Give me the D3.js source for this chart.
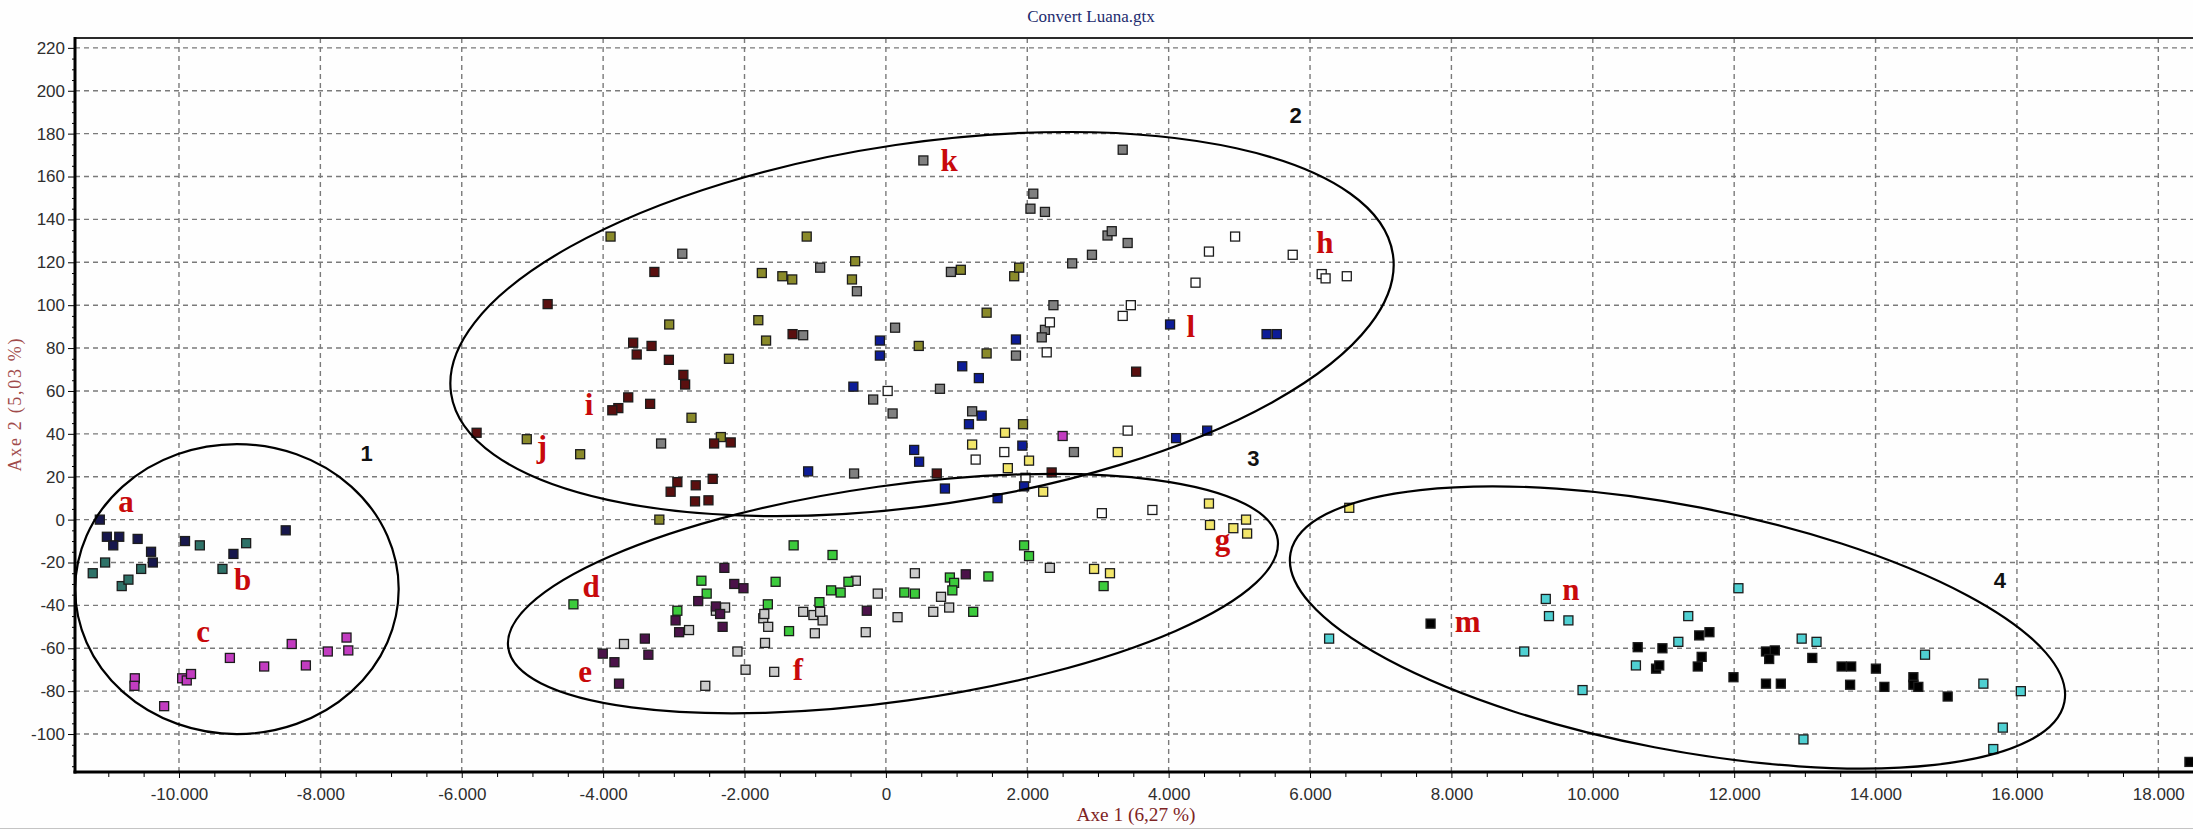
<!DOCTYPE html>
<html>
<head>
<meta charset="utf-8">
<script src="https://cdn.jsdelivr.net/npm/d3@7"></script>
<style>
  body { margin: 0; background: #fff; }
  svg { display: block; }
</style>
</head>
<body>
<svg id="chart" width="2193" height="830"></svg>
<script>
// ---- data (Axe 1, Axe 2) ----
const ptsA = [[-11120,0],[-11020,-8],[-10845,-8],[-10930,-12],[-10585,-9],[-10395,-15],[-10370,-20],[-9915,-10],[-9230,-16],[-8490,-5]];
const ptsB = [[-11220,-25],[-11045,-20],[-10810,-31],[-10715,-28],[-10535,-23],[-9705,-12],[-9385,-23],[-9050,-11]];
const ptsC = [[-10625,-74],[-10630,-77.5],[-10210,-87],[-9955,-74],[-9890,-75],[-9830,-72],[-9280,-64.5],[-8795,-68.5],[-8405,-58],[-8205,-68],[-7895,-61.5],[-7630,-55],[-7605,-61],[2500,39]];
const ptsD = [[-4420,-39.5],[-1305,-12],[-755,-16.5],[-2610,-28.5],[-2535,-34.5],[-2950,-42.5],[-1560,-29],[-1670,-39.5],[-1370,-52],[-940,-38.5],[-775,-33],[-640,-34],[-530,-29],[260,-34],[410,-34.5],[905,-27],[965,-29.5],[940,-33],[1450,-26.5],[1235,-43],[1955,-12],[2025,-17],[3080,-31]];
const ptsE = [[-2285,-22.5],[-2145,-30],[-2015,-32],[-2655,-38],[-2405,-40.5],[-2345,-44],[-2975,-47],[-2925,-52.5],[-2310,-50],[-3410,-55.5],[-3360,-63],[-4005,-62.5],[-3840,-66.5],[-3775,-76.5],[-270,-42.5],[1130,-25.5]];
const ptsF = [[-3705,-58],[-2785,-51.5],[-2405,-42.5],[-2275,-41],[-2100,-61.5],[-2555,-77.5],[-1985,-70],[-1580,-71],[-1710,-57.5],[-1735,-46],[-1665,-50],[-1720,-44],[-1170,-43],[-1025,-44.5],[-895,-47],[-930,-43],[-1005,-53],[-425,-28.5],[-115,-34.5],[-285,-52.5],[165,-45.5],[410,-25],[670,-43],[780,-36],[895,-41],[2320,-22.5]];
const ptsG = [[1220,35],[1685,40.5],[2025,27.5],[1725,24],[2225,13],[3280,31.5],[4570,7.5],[4585,-2.5],[4915,-4],[5095,0],[5110,-6.5],[6555,5.5],[2945,-23],[3170,-25]];
const ptsH = [[4940,132],[4570,125],[5755,123.5],[4380,110.5],[6165,114.5],[6220,112.5],[6520,113.5],[3465,100],[3350,95],[2320,92],[2275,78],[3420,41.5],[1675,31.5],[1270,28],[1975,19.5],[25,60],[3055,3],[3770,4.5]];
const ptsI = [[-4785,100.5],[-3275,115.5],[-3575,82.5],[-3525,77],[-3315,81],[-3070,74.5],[-2865,67.5],[-2840,63],[-3645,57],[-3785,52],[-3870,51],[-3335,54],[-5790,40.5],[-1320,86.5],[-2430,35.5],[-2195,36],[-2950,17.5],[-3045,13],[-2690,16],[-2450,19],[-2700,8.5],[-2510,9],[3540,69],[720,21.5],[2345,22]];
const ptsJ = [[-3895,132],[-3065,91],[-2220,75],[-2750,47.5],[-5080,37.5],[-4325,30.5],[-2335,38.5],[-1755,115],[-1465,113.5],[-1325,112],[-1120,132],[-435,120.5],[-480,112],[-1805,93],[-1695,83.5],[1060,116.5],[1815,113.5],[1885,117.5],[1425,96.5],[465,81],[1425,77.5],[1940,44.5],[-3205,0]];
const ptsK = [[-2880,124],[-930,117.5],[-410,106.5],[-1170,86],[130,89.5],[-180,56],[95,49.5],[-3180,35.5],[-450,21.5],[530,167.5],[3350,172.5],[2085,152],[2045,145],[2250,143.5],[3135,132.5],[3195,134.5],[3420,129],[2915,123.5],[2635,119.5],[920,115.5],[2370,100],[2250,88.5],[2205,85],[1840,76.5],[765,61],[1220,50.5],[2660,31.5]];
const ptsL = [[4020,91],[5385,86.5],[5530,86.5],[1840,84],[1080,71.5],[1315,66],[1355,48.5],[1175,44.5],[1930,34.5],[400,32.5],[470,27],[4105,38],[4545,41.5],[835,14.5],[1955,15.5],[1580,10],[-85,83.5],[-85,76.5],[-460,62],[-1100,22.5]];
const ptsM = [[7705,-48.5],[10635,-59.5],[10985,-60],[10895,-69.5],[10940,-68],[11505,-54],[11650,-52.5],[11540,-64],[11485,-68.5],[11990,-73.5],[12450,-76.5],[12660,-76.5],[12450,-61.5],[12575,-61],[12495,-65],[13105,-64.5],[13520,-68.5],[13655,-68.5],[13640,-77],[14005,-69.5],[14125,-78],[14535,-73.5],[14535,-77],[14605,-78],[15020,-82.5],[18440,-113]];
const ptsN = [[6270,-55.5],[9335,-37],[9380,-45],[9655,-47],[9030,-61.5],[9855,-79.5],[11350,-45],[11210,-57],[10610,-68],[12060,-32],[12955,-55.5],[13165,-57],[14700,-63],[15525,-76.5],[16055,-80],[15800,-97],[15665,-107],[12980,-102.5]];

const groupKeys = ['b','a','c','j','k','i','h','l','g','f','d','e','n','m'];
const groupPts = {a:ptsA,b:ptsB,c:ptsC,d:ptsD,e:ptsE,f:ptsF,g:ptsG,h:ptsH,i:ptsI,j:ptsJ,k:ptsK,l:ptsL,m:ptsM,n:ptsN};
const groupFill = {a:'#17174c',b:'#2e7268',c:'#c23cc0',d:'#3ccb3c',e:'#4b1249',f:'#cbcbcb',g:'#f2e66a',
  h:'#ffffff',i:'#5a0f0f',j:'#8a8a2a',k:'#808080',l:'#0d1c97',m:'#000000',n:'#4fd0d2'};

// letter labels: [text, axe1, axe2]
const letterLabels = [['a',-10750,3.7],['b',-9100,-32.8],['c',-9660,-57],['d',-4170,-36],['e',-4255,-75.6],
  ['f',-1245,-74.8],['g',4760,-14],['h',6210,124.2],['i',-4200,48.8],['j',-4865,29.3],['k',895,162.6],
  ['l',4315,85],['m',8230,-52.3],['n',9690,-37.5]];
// cluster numbers: [text, axe1, axe2]
const clusterLabels = [['1',-7345,27.3],['2',5797,185],['3',5197,25],['4',15760,-32]];
// cluster ellipses: [centre axe1, centre axe2, half-width axe1, half-height axe2, tilt deg]
const ellipses = [[-9180,-32.4,2288,67.6,0],[511,91.2,6734,84.4,-8.4],[100,-34.5,5496,50.3,-8],[11198,-50.3,5574,56.9,10.9]];

const xTicks = d3.range(-10000, 18001, 2000);
const xMinor = d3.range(-11000, 18501, 500).filter(v => v % 2000 !== 0);
const yTicks = d3.range(-100, 221, 20);
const yMinor = d3.range(-115, 225, 5).filter(v => v % 20 !== 0);

// ---- layout ----
const pLeft = 75, pTop = 38, pBottom = 772, pRight = 2196;
const svg = d3.select('#chart');

const x = d3.scaleLinear().domain([-11471, 18533]).range([pLeft, pRight]);
const y = d3.scaleLinear().domain([-117.7, 224.6]).range([pBottom, pTop]);

const loc = d3.formatLocale({decimal: ',', thousands: '.', grouping: [3], currency: ['', ''], minus: '-'});
const fmt = loc.format(',d');

svg.append('rect').attr('width', 2193).attr('height', 830).attr('fill', '#fefefe');

// title
svg.append('text')
  .attr('x', 1091).attr('y', 22)
  .attr('text-anchor', 'middle')
  .style('font-family', '"Liberation Serif", "Times New Roman", serif')
  .style('font-size', '17px')
  .attr('fill', '#1d2b6e')
  .text('Convert Luana.gtx');

// grid
const grid = svg.append('g');
grid.selectAll('line.v').data(xTicks).enter().append('line')
  .attr('x1', d => x(d)).attr('x2', d => x(d))
  .attr('y1', pTop).attr('y2', pBottom)
  .attr('stroke', '#7a7a7a').attr('stroke-width', 1.4).attr('stroke-dasharray', '5,4');
grid.selectAll('line.h').data(yTicks).enter().append('line')
  .attr('x1', pLeft).attr('x2', pRight)
  .attr('y1', d => y(d)).attr('y2', d => y(d))
  .attr('stroke', '#7a7a7a').attr('stroke-width', 1.4).attr('stroke-dasharray', '5,4');

// axes
const tickFont = g => g.selectAll('text')
  .style('font-family', '"Liberation Sans", Arial, sans-serif')
  .style('font-size', '17px')
  .attr('fill', '#2e2e2e');

svg.append('g').attr('transform', `translate(0,${pBottom})`)
  .call(d3.axisBottom(x).tickValues(xTicks).tickFormat(fmt).tickSize(6).tickPadding(10))
  .call(g => g.select('.domain').remove())
  .call(tickFont);
svg.append('g').attr('transform', `translate(0,${pBottom})`)
  .call(d3.axisBottom(x).tickValues(xMinor).tickFormat('').tickSize(5))
  .call(g => g.select('.domain').remove());

svg.append('g').attr('transform', `translate(${pLeft},0)`)
  .call(d3.axisLeft(y).tickValues(yTicks).tickFormat(fmt).tickSize(7).tickPadding(3))
  .call(g => g.select('.domain').remove())
  .call(tickFont);
svg.append('g').attr('transform', `translate(${pLeft},0)`)
  .call(d3.axisLeft(y).tickValues(yMinor).tickFormat('').tickSize(3))
  .call(g => g.select('.domain').remove());

// frame
svg.append('line').attr('x1', pLeft).attr('x2', pRight).attr('y1', pTop).attr('y2', pTop)
  .attr('stroke', '#2a2a2a').attr('stroke-width', 2);
svg.append('line').attr('x1', pLeft).attr('x2', pLeft).attr('y1', pTop - 1).attr('y2', pBottom + 1.5)
  .attr('stroke', '#000').attr('stroke-width', 3);
svg.append('line').attr('x1', pLeft - 1.5).attr('x2', pRight).attr('y1', pBottom).attr('y2', pBottom)
  .attr('stroke', '#000').attr('stroke-width', 3);
svg.append('line').attr('x1', 0).attr('x2', 2193).attr('y1', 828.5).attr('y2', 828.5)
  .attr('stroke', '#c4c4c4').attr('stroke-width', 1);

// axis titles
svg.append('text')
  .attr('x', 1136).attr('y', 821)
  .attr('text-anchor', 'middle')
  .attr('textLength', 119).attr('lengthAdjust', 'spacingAndGlyphs')
  .style('font-family', '"Liberation Serif", "Times New Roman", serif')
  .style('font-size', '18px')
  .attr('fill', '#7e2424')
  .text('Axe 1 (6,27 %)');
svg.append('text')
  .attr('transform', 'translate(21,405) rotate(-90)')
  .attr('text-anchor', 'middle')
  .attr('textLength', 133).attr('lengthAdjust', 'spacing')
  .style('font-family', '"Liberation Serif", "Times New Roman", serif')
  .style('font-size', '18px')
  .attr('fill', '#a04a4a')
  .text('Axe 2 (5,03 %)');

// points
const sq = 9;
groupKeys.forEach(k => {
  svg.append('g').selectAll('rect')
    .data(groupPts[k])
    .enter().append('rect')
      .attr('x', d => x(d[0]) - sq / 2)
      .attr('y', d => y(d[1]) - sq / 2)
      .attr('width', sq).attr('height', sq)
      .attr('fill', groupFill[k])
      .attr('stroke', '#1c1c1c')
      .attr('stroke-width', 1.3);
});

// ellipses
svg.append('g').selectAll('ellipse')
  .data(ellipses)
  .enter().append('ellipse')
    .attr('cx', d => x(d[0]))
    .attr('cy', d => y(d[1]))
    .attr('rx', d => x(d[0] + d[2]) - x(d[0]))
    .attr('ry', d => y(d[1] - d[3]) - y(d[1]))
    .attr('transform', d => `rotate(${d[4]},${x(d[0])},${y(d[1])})`)
    .attr('fill', 'none')
    .attr('stroke', '#000')
    .attr('stroke-width', 2.2);

// labels
svg.append('g').selectAll('text')
  .data(letterLabels)
  .enter().append('text')
    .attr('x', d => x(d[1])).attr('y', d => y(d[2]))
    .attr('text-anchor', 'middle')
    .style('font-family', '"Liberation Serif", "Times New Roman", serif')
    .style('font-weight', 'bold')
    .style('font-size', '31px')
    .attr('fill', '#c8090b')
    .text(d => d[0]);

svg.append('g').selectAll('text')
  .data(clusterLabels)
  .enter().append('text')
    .attr('x', d => x(d[1])).attr('y', d => y(d[2]))
    .attr('text-anchor', 'middle')
    .style('font-family', '"Liberation Sans", Arial, sans-serif')
    .style('font-weight', 'bold')
    .style('font-size', '22px')
    .attr('fill', '#111')
    .text(d => d[0]);
</script>
</body>
</html>
